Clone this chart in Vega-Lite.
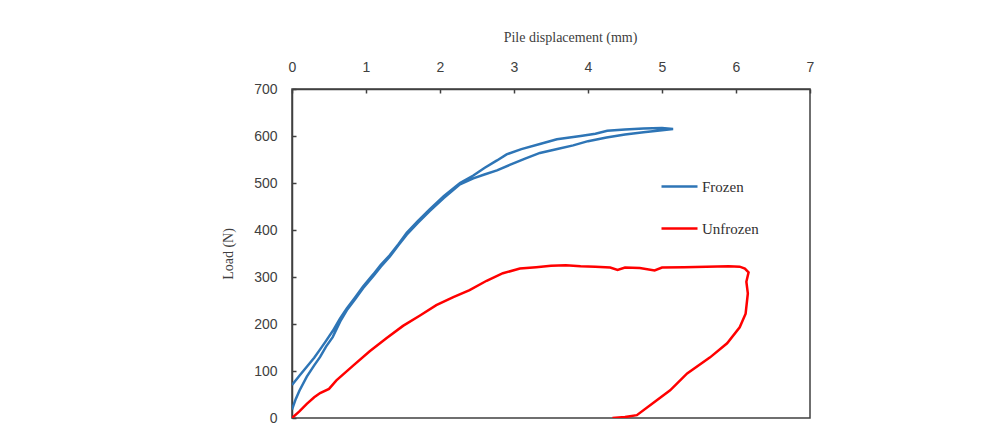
{
  "$schema": "https://vega.github.io/schema/vega-lite/v6.json",
  "autosize": {"type": "none"},
  "padding": {"left": 292, "top": 89, "right": 192, "bottom": 14},
  "width": 518,
  "height": 329,
  "background": "white",
  "config": {
    "view": {"stroke": "#404040", "strokeWidth": 1.5},
    "axis": {
      "labelFont": "Liberation Sans",
      "labelFontSize": 14,
      "labelColor": "#404040",
      "titleFont": "Liberation Serif",
      "titleFontSize": 14,
      "titleFontWeight": "normal",
      "titleColor": "#404040",
      "domainColor": "#404040",
      "domainWidth": 1.5,
      "tickColor": "#404040",
      "tickWidth": 1.5,
      "tickSize": -4,
      "grid": false
    },
    "legend": {
      "labelFont": "Liberation Serif",
      "labelFontSize": 15,
      "labelColor": "#303030"
    }
  },
  "data": {
    "values": [
      {"series": "Frozen", "i": 1, "d": 0.0, "load": 18},
      {"series": "Frozen", "i": 2, "d": 0.05, "load": 40},
      {"series": "Frozen", "i": 3, "d": 0.1, "load": 58},
      {"series": "Frozen", "i": 4, "d": 0.2, "load": 88},
      {"series": "Frozen", "i": 5, "d": 0.3, "load": 112},
      {"series": "Frozen", "i": 6, "d": 0.38, "load": 130},
      {"series": "Frozen", "i": 7, "d": 0.46, "load": 152},
      {"series": "Frozen", "i": 8, "d": 0.55, "load": 172},
      {"series": "Frozen", "i": 9, "d": 0.65, "load": 205},
      {"series": "Frozen", "i": 10, "d": 0.74, "load": 229},
      {"series": "Frozen", "i": 11, "d": 0.85, "load": 252},
      {"series": "Frozen", "i": 12, "d": 0.96, "load": 276},
      {"series": "Frozen", "i": 13, "d": 1.1, "load": 302},
      {"series": "Frozen", "i": 14, "d": 1.2, "load": 322},
      {"series": "Frozen", "i": 15, "d": 1.32, "load": 343},
      {"series": "Frozen", "i": 16, "d": 1.44, "load": 368},
      {"series": "Frozen", "i": 17, "d": 1.55, "load": 390},
      {"series": "Frozen", "i": 18, "d": 1.7, "load": 415},
      {"series": "Frozen", "i": 19, "d": 1.86, "load": 440},
      {"series": "Frozen", "i": 20, "d": 2.05, "load": 468},
      {"series": "Frozen", "i": 21, "d": 2.27, "load": 497},
      {"series": "Frozen", "i": 22, "d": 2.45, "load": 510},
      {"series": "Frozen", "i": 23, "d": 2.6, "load": 518},
      {"series": "Frozen", "i": 24, "d": 2.77, "load": 527},
      {"series": "Frozen", "i": 25, "d": 2.95, "load": 539},
      {"series": "Frozen", "i": 26, "d": 3.15, "load": 552},
      {"series": "Frozen", "i": 27, "d": 3.35, "load": 564},
      {"series": "Frozen", "i": 28, "d": 3.6, "load": 573},
      {"series": "Frozen", "i": 29, "d": 3.8, "load": 580},
      {"series": "Frozen", "i": 30, "d": 4.0, "load": 589},
      {"series": "Frozen", "i": 31, "d": 4.25, "load": 597},
      {"series": "Frozen", "i": 32, "d": 4.5, "load": 603},
      {"series": "Frozen", "i": 33, "d": 4.75, "load": 608},
      {"series": "Frozen", "i": 34, "d": 5.0, "load": 612},
      {"series": "Frozen", "i": 35, "d": 5.15, "load": 615},
      {"series": "Frozen", "i": 36, "d": 5.0, "load": 617},
      {"series": "Frozen", "i": 37, "d": 4.75, "load": 616},
      {"series": "Frozen", "i": 38, "d": 4.5, "load": 614},
      {"series": "Frozen", "i": 39, "d": 4.26, "load": 611},
      {"series": "Frozen", "i": 40, "d": 4.1, "load": 605},
      {"series": "Frozen", "i": 41, "d": 3.9, "load": 600},
      {"series": "Frozen", "i": 42, "d": 3.58, "load": 593},
      {"series": "Frozen", "i": 43, "d": 3.35, "load": 583},
      {"series": "Frozen", "i": 44, "d": 3.1, "load": 572},
      {"series": "Frozen", "i": 45, "d": 2.9, "load": 561},
      {"series": "Frozen", "i": 46, "d": 2.77, "load": 548},
      {"series": "Frozen", "i": 47, "d": 2.6, "load": 532},
      {"series": "Frozen", "i": 48, "d": 2.45, "load": 516},
      {"series": "Frozen", "i": 49, "d": 2.27, "load": 500},
      {"series": "Frozen", "i": 50, "d": 2.05, "load": 472},
      {"series": "Frozen", "i": 51, "d": 1.86, "load": 444},
      {"series": "Frozen", "i": 52, "d": 1.7, "load": 419},
      {"series": "Frozen", "i": 53, "d": 1.55, "load": 394},
      {"series": "Frozen", "i": 54, "d": 1.44, "load": 370},
      {"series": "Frozen", "i": 55, "d": 1.32, "load": 346},
      {"series": "Frozen", "i": 56, "d": 1.2, "load": 326},
      {"series": "Frozen", "i": 57, "d": 1.1, "load": 306},
      {"series": "Frozen", "i": 58, "d": 0.96, "load": 280},
      {"series": "Frozen", "i": 59, "d": 0.85, "load": 256},
      {"series": "Frozen", "i": 60, "d": 0.74, "load": 233},
      {"series": "Frozen", "i": 61, "d": 0.65, "load": 212},
      {"series": "Frozen", "i": 62, "d": 0.55, "load": 185},
      {"series": "Frozen", "i": 63, "d": 0.46, "load": 164},
      {"series": "Frozen", "i": 64, "d": 0.38, "load": 146},
      {"series": "Frozen", "i": 65, "d": 0.3, "load": 128},
      {"series": "Frozen", "i": 66, "d": 0.2, "load": 109},
      {"series": "Frozen", "i": 67, "d": 0.1, "load": 90},
      {"series": "Frozen", "i": 68, "d": 0.0, "load": 70},
      {"series": "Unfrozen", "i": 1, "d": 0.0, "load": 0},
      {"series": "Unfrozen", "i": 2, "d": 0.1, "load": 14},
      {"series": "Unfrozen", "i": 3, "d": 0.2, "load": 30},
      {"series": "Unfrozen", "i": 4, "d": 0.3, "load": 44},
      {"series": "Unfrozen", "i": 5, "d": 0.38, "load": 53},
      {"series": "Unfrozen", "i": 6, "d": 0.5, "load": 62},
      {"series": "Unfrozen", "i": 7, "d": 0.6, "load": 80},
      {"series": "Unfrozen", "i": 8, "d": 0.83, "load": 112},
      {"series": "Unfrozen", "i": 9, "d": 1.05, "load": 142},
      {"series": "Unfrozen", "i": 10, "d": 1.28, "load": 170},
      {"series": "Unfrozen", "i": 11, "d": 1.5, "load": 196},
      {"series": "Unfrozen", "i": 12, "d": 1.73, "load": 218},
      {"series": "Unfrozen", "i": 13, "d": 1.95, "load": 240},
      {"series": "Unfrozen", "i": 14, "d": 2.18, "load": 257},
      {"series": "Unfrozen", "i": 15, "d": 2.4, "load": 272},
      {"series": "Unfrozen", "i": 16, "d": 2.63, "load": 292},
      {"series": "Unfrozen", "i": 17, "d": 2.85, "load": 308},
      {"series": "Unfrozen", "i": 18, "d": 3.08, "load": 318},
      {"series": "Unfrozen", "i": 19, "d": 3.3, "load": 321},
      {"series": "Unfrozen", "i": 20, "d": 3.5, "load": 324},
      {"series": "Unfrozen", "i": 21, "d": 3.7, "load": 325},
      {"series": "Unfrozen", "i": 22, "d": 3.9, "load": 323},
      {"series": "Unfrozen", "i": 23, "d": 4.1, "load": 322},
      {"series": "Unfrozen", "i": 24, "d": 4.3, "load": 320},
      {"series": "Unfrozen", "i": 25, "d": 4.4, "load": 315},
      {"series": "Unfrozen", "i": 26, "d": 4.5, "load": 320},
      {"series": "Unfrozen", "i": 27, "d": 4.7, "load": 319},
      {"series": "Unfrozen", "i": 28, "d": 4.9, "load": 314},
      {"series": "Unfrozen", "i": 29, "d": 5.0, "load": 320},
      {"series": "Unfrozen", "i": 30, "d": 5.3, "load": 321},
      {"series": "Unfrozen", "i": 31, "d": 5.6, "load": 322},
      {"series": "Unfrozen", "i": 32, "d": 5.9, "load": 323},
      {"series": "Unfrozen", "i": 33, "d": 6.05, "load": 322},
      {"series": "Unfrozen", "i": 34, "d": 6.12, "load": 318},
      {"series": "Unfrozen", "i": 35, "d": 6.17, "load": 310},
      {"series": "Unfrozen", "i": 36, "d": 6.14, "load": 290},
      {"series": "Unfrozen", "i": 37, "d": 6.16, "load": 265},
      {"series": "Unfrozen", "i": 38, "d": 6.13, "load": 222},
      {"series": "Unfrozen", "i": 39, "d": 6.05, "load": 193},
      {"series": "Unfrozen", "i": 40, "d": 5.88, "load": 159},
      {"series": "Unfrozen", "i": 41, "d": 5.65, "load": 129},
      {"series": "Unfrozen", "i": 42, "d": 5.34, "load": 95},
      {"series": "Unfrozen", "i": 43, "d": 5.11, "load": 59},
      {"series": "Unfrozen", "i": 44, "d": 4.88, "load": 32},
      {"series": "Unfrozen", "i": 45, "d": 4.66, "load": 6},
      {"series": "Unfrozen", "i": 46, "d": 4.5, "load": 2},
      {"series": "Unfrozen", "i": 47, "d": 4.33, "load": 0}
    ]
  },
  "mark": {"type": "line", "strokeWidth": 2.5, "clip": true},
  "encoding": {
    "x": {
      "field": "d",
      "type": "quantitative",
      "title": "Pile displacement (mm)",
      "scale": {"domain": [0, 7], "nice": false, "zero": false},
      "axis": {
        "orient": "top",
        "values": [0, 1, 2, 3, 4, 5, 6, 7],
        "labelPadding": 19,
        "titlePadding": 16,
        "titleX": 278,
        "labelFlush": false
      }
    },
    "y": {
      "field": "load",
      "type": "quantitative",
      "title": "Load (N)",
      "scale": {"domain": [0, 700], "nice": false},
      "axis": {
        "values": [0, 100, 200, 300, 400, 500, 600, 700],
        "labelPadding": 19,
        "titlePadding": 18,
        "labelFlush": false
      }
    },
    "order": {"field": "i", "type": "quantitative"},
    "color": {
      "field": "series",
      "type": "nominal",
      "scale": {"domain": ["Frozen", "Unfrozen"], "range": ["#2E75B6", "#FF0000"]},
      "legend": {
        "title": null,
        "orient": "none",
        "legendX": 368,
        "legendY": 78,
        "symbolType": "stroke",
        "symbolSize": 1296,
        "symbolStrokeWidth": 2.5,
        "labelOffset": 3,
        "rowPadding": 14
      }
    }
  }
}
